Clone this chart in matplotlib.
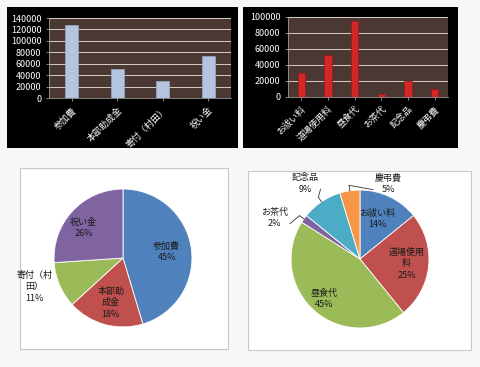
"""Two Japanese budget charts: income/expense bars (top) and share pies (bottom)."""

import matplotlib
matplotlib.use("Agg")
import matplotlib.pyplot as plt
import numpy as np
from matplotlib.patches import Rectangle

plt.rcParams["font.family"] = ["Noto Sans CJK JP", "DejaVu Sans"]

# ---------------------------------------------------------------------------
# data
income_labels = ["参加費", "本部助成金", "寄付（村田）", "祝い金"]
income_values = [127000, 50000, 30000, 73000]
income_pie_labels = ["参加費", "本部助\n成金", "寄付（村\n田）", "祝い金"]

expense_labels = ["お祓い料", "道場使用料", "昼食代", "お茶代", "記念品", "慶弔費"]
expense_values = [30000, 53000, 95000, 4000, 20000, 10000]
expense_pie_labels = ["お祓い料", "道場使用\n料", "昼食代", "お茶代", "記念品", "慶弔費"]

PIE_COLORS = ["#4F81BD", "#C0504D", "#9BBB59", "#8064A2", "#4BACC6", "#F79646"]

W, H = 480, 367
fig = plt.figure(figsize=(W / 100, H / 100), dpi=100)
fig.patch.set_facecolor("#f7f7f5")


def px_axes(x0, y0, x1, y1):
    """Axes from pixel box (top-left origin)."""
    return fig.add_axes([x0 / W, 1 - y1 / H, (x1 - x0) / W, (y1 - y0) / H])


def px_rect(x0, y0, x1, y1, **kw):
    fig.patches.append(Rectangle((x0 / W, 1 - y1 / H), (x1 - x0) / W, (y1 - y0) / H,
                                 transform=fig.transFigure, zorder=-1, **kw))


def bar_panel(box, ax_box, labels, values, ymax, color, edge):
    px_rect(*box, facecolor="black", edgecolor="none")
    ax = px_axes(*ax_box)
    ax.set_facecolor("#4b3832")
    x = np.arange(len(values))
    ax.bar(x, values, width=0.28, color=color, edgecolor=edge, linewidth=0.6, zorder=3)
    ax.set_xlim(-0.5, len(values) - 0.5)
    ax.set_ylim(0, ymax)
    ax.set_yticks(np.arange(0, ymax + 1, 20000))
    ax.yaxis.grid(True, color="#d8cfc4", linewidth=0.7, zorder=1)
    ax.set_axisbelow(True)
    ax.set_xticks(x)
    ax.set_xticklabels(labels, rotation=45, ha="right", rotation_mode="anchor", fontsize=6.5)
    ax.tick_params(axis="y", labelsize=6.5)
    ax.tick_params(colors="#bbbbbb", labelcolor="white", length=2, width=0.5)
    for s in ("top", "right"):
        ax.spines[s].set_visible(False)
    for s in ("left", "bottom"):
        ax.spines[s].set_color("#999999")
        ax.spines[s].set_linewidth(0.6)
    return ax


bar_panel((7, 7, 238, 148), (49, 18, 231, 98), income_labels, income_values,
          140000, "#b4c4de", "#8fa3c4")
bar_panel((243, 7, 458, 148), (288, 17, 448, 97), expense_labels, expense_values,
          100000, "#d42828", "#a01818")


def pie_panel(box, center, values, labels, placement):
    px_rect(*box, facecolor="white", edgecolor="#c8c8c8", linewidth=0.8)
    cx, cy = center
    half = 100
    ax = px_axes(cx - half, cy - half, cx + half, cy + half)
    ax.set_facecolor("none")
    wedges, _ = ax.pie(values, colors=PIE_COLORS, startangle=90, counterclock=False,
                       radius=1.0, wedgeprops=dict(edgecolor="white", linewidth=0.6))
    ax.set_xlim(-1.45, 1.45)
    ax.set_ylim(-1.45, 1.45)
    ax.set_aspect("equal")
    ax.axis("off")
    total = sum(values)
    for w, lab, v, (r, dang, leader) in zip(wedges, labels, values, placement):
        mid = np.deg2rad((w.theta1 + w.theta2) / 2 + dang)
        tx, ty = r * np.cos(mid), r * np.sin(mid)
        txt = f"{lab}\n{round(100 * v / total)}%"
        ax.text(tx, ty, txt, ha="center", va="center", fontsize=6.5,
                color="#1a1a1a", linespacing=1.35)
        if leader:
            m = np.deg2rad((w.theta1 + w.theta2) / 2)
            ex, ey = 1.0 * np.cos(m), 1.0 * np.sin(m)
            kx, ky = 1.08 * np.cos(m), 1.08 * np.sin(m)
            lx = tx + (0.22 if tx < ex else -0.22)
            ly = ty - 0.08
            ax.plot([ex, kx, lx], [ey, ky, ly], color="#333333", linewidth=0.6)


pie_panel((20, 168, 228, 349), (123, 258), income_values, income_pie_labels,
          [(0.64, 0, False), (0.67, 0, False), (1.35, -5, False), (0.72, 6, False)])
pie_panel((248, 171, 471, 350), (360, 259), expense_values, expense_pie_labels,
          [(0.63, 2, False), (0.68, 0, False), (0.78, 0, False),
           (1.37, 10, True), (1.35, 2, True), (1.16, -29, True)])

fig.savefig("out.png", dpi=100, facecolor=fig.get_facecolor())
